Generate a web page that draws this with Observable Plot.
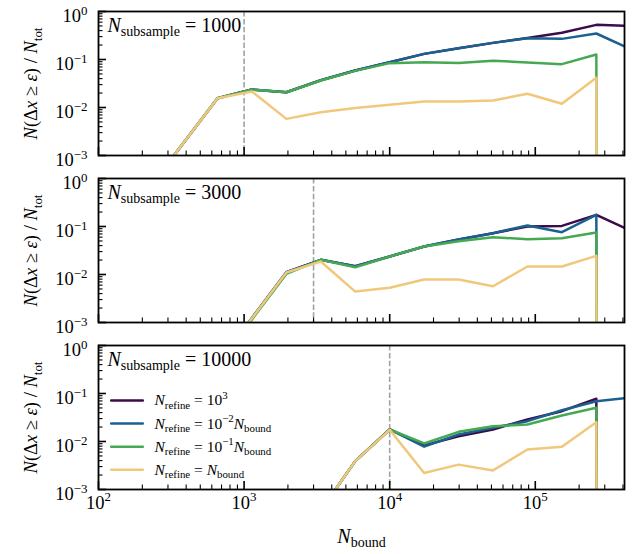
<!DOCTYPE html>
<html><head><meta charset="utf-8">
<script src="https://cdn.jsdelivr.net/npm/d3@7"></script>
<script src="https://cdn.jsdelivr.net/npm/@observablehq/plot@0.6"></script>
<style>
html,body{margin:0;padding:0;background:#fff;}
#chart svg{display:block;overflow:visible}
text{white-space:pre}
</style></head>
<body><div id="chart"></div>
<script>
// ---- data ----
const nBound = [220, 381, 657, 1132, 1951, 3364, 5800, 10000, 17240, 29720, 51240, 88340, 152300, 262600, 452700];
const subsamples = [1000, 3000, 10000];
const seriesKeys = ["refine_1e3", "refine_1e-2", "refine_1e-1", "refine_N"];
const seriesLabels = [
  "*N*_{refine} = 10^{3}",
  "*N*_{refine} = 10^{−2}*N*_{bound}",
  "*N*_{refine} = 10^{−1}*N*_{bound}",
  "*N*_{refine} = *N*_{bound}"
];
const seriesColors = ["#3b0b4b", "#1a6190", "#46a952", "#f1c87b"];

// N_subsample = 1000
const sub1000_refine1e3  = [2.0e-4, null, 0.0156, 0.0237, 0.0208, 0.037, 0.059, 0.088, 0.131, 0.172, 0.222, 0.28, 0.36, 0.527, 0.497];
const sub1000_refine1em2 = [2.0e-4, null, 0.0156, 0.0237, 0.0208, 0.037, 0.059, 0.088, 0.131, 0.172, 0.222, 0.278, 0.269, 0.348, 0.164];
const sub1000_refine1em1 = [2.0e-4, null, 0.0156, 0.0237, 0.0208, 0.0365, 0.058, 0.084, 0.088, 0.085, 0.094, 0.087, 0.080, 0.127, 0];
const sub1000_refineN    = [2.0e-4, null, 0.0156, 0.0215, 0.0058, 0.008, 0.0098, 0.0114, 0.0133, 0.0133, 0.014, 0.0193, 0.012, 0.0416, 0];
// N_subsample = 3000
const sub3000_refine1e3  = [null, null, 1.36e-4, null, 0.0112, 0.0202, 0.0148, 0.0237, 0.0383, 0.0536, 0.0726, 0.100, 0.103, 0.175, 0.081];
const sub3000_refine1em2 = [null, null, 1.36e-4, null, 0.0112, 0.0202, 0.0148, 0.0237, 0.0383, 0.0536, 0.0726, 0.105, 0.076, 0.175, 0];
const sub3000_refine1em1 = [null, null, 1.30e-4, null, 0.0103, 0.0202, 0.0142, 0.0237, 0.0383, 0.0494, 0.060, 0.0544, 0.057, 0.075, 0];
const sub3000_refineN    = [null, null, 1.36e-4, null, 0.011, 0.0187, 0.0044, 0.0053, 0.0079, 0.0079, 0.0057, 0.0147, 0.0147, 0.0245, 0];
// N_subsample = 10000
const sub10000_refine1e3  = [null, null, null, null, null, 3.7e-4, 0.0039, 0.0178, 0.0083, 0.0129, 0.0178, 0.0287, 0.0428, 0.0776, 0];
const sub10000_refine1em2 = [null, null, null, null, null, 3.7e-4, 0.0039, 0.0178, 0.0078, 0.0140, 0.0193, 0.0265, 0.0449, 0.069, 0.0826];
const sub10000_refine1em1 = [null, null, null, null, null, 3.7e-4, 0.0039, 0.0178, 0.0091, 0.0159, 0.0208, 0.0226, 0.0348, 0.0504, 0];
const sub10000_refineN    = [null, null, null, null, null, 3.7e-4, 0.0039, 0.0175, 0.0022, 0.0033, 0.0025, 0.0068, 0.0078, 0.0252, 0];

const majorX = [1e2, 1e3, 1e4, 1e5];
const minorX = [2e2,3e2,4e2,5e2,6e2,7e2,8e2,9e2,2e3,3e3,4e3,5e3,6e3,7e3,8e3,9e3,2e4,3e4,4e4,5e4,6e4,7e4,8e4,9e4,2e5,3e5,4e5];
const majorY = [1e-3, 1e-2, 1e-1, 1];
const minorY = [2e-3,3e-3,4e-3,5e-3,6e-3,7e-3,8e-3,9e-3,2e-2,3e-2,4e-2,5e-2,6e-2,7e-2,8e-2,9e-2,2e-1,3e-1,4e-1,5e-1,6e-1,7e-1,8e-1,9e-1];
const yLabel = "*N*(Δ*x* ≥ *ε*) / *N*_{tot}";
const xLabel = "*N*_{bound}";

// ---- table ----
const panels = [
  {sub: 1000, series: [sub1000_refine1e3, sub1000_refine1em2, sub1000_refine1em1, sub1000_refineN]},
  {sub: 3000, series: [sub3000_refine1e3, sub3000_refine1em2, sub3000_refine1em1, sub3000_refineN]},
  {sub: 10000, series: [sub10000_refine1e3, sub10000_refine1em2, sub10000_refine1em1, sub10000_refineN]}
];
const rows = [];
panels.forEach(p => p.series.forEach((arr, si) => arr.forEach((v, i) => {
  if (v == null) return;
  // emulate matplotlib's clipping of non-positive values on a log axis
  rows.push({sub: p.sub, key: seriesKeys[si], n: nBound[i], v: v > 0 ? v : 1e-300});
})));

const powFmt = d => `10^{${Math.round(Math.log10(d))}}`.replace("-", "−");
const lineShape = {draw(ctx, l) { ctx.moveTo(0, 0); ctx.lineTo(0, -l); }};

const chart = Plot.plot({
  width: 639, height: 554,
  marginLeft: 98, marginRight: 15, marginTop: 11, marginBottom: 64,
  style: {fontFamily: "'Liberation Serif', 'DejaVu Serif', serif", fontSize: "18px", color: "black", background: "white"},
  x: {type: "log", domain: [100, 4.1e5]},
  y: {type: "log", domain: [1e-3, 1]},
  fy: {domain: subsamples, paddingInner: 0.1377, paddingOuter: 0, axis: null},
  color: {domain: seriesKeys, range: seriesColors},
  marks: [
    Plot.ruleX(subsamples, {x: d => d, fy: d => d, stroke: "#a3a3a3", strokeWidth: 1.6, strokeDasharray: "5.5,2.4"}),
    Plot.line(rows, {x: "n", y: "v", fy: "sub", z: "key", stroke: "key", strokeWidth: 2.5, clip: true}),
    Plot.axisX({ticks: minorX, tickSize: -4.5, fill: "none", facetAnchor: null, strokeWidth: 1.1, label: null}),
    Plot.axisX({ticks: majorX, tickSize: -8, fill: "none", facetAnchor: null, strokeWidth: 1.6, label: null}),
    Plot.axisX({ticks: majorX, tickSize: 0, tickPadding: 6, tickFormat: powFmt, fontSize: 18.5, label: null}),
    Plot.axisY({ticks: minorY, tickSize: -4.5, fill: "none", strokeWidth: 1.1, label: null}),
    Plot.axisY({ticks: majorY, tickSize: 0, tickPadding: 11, tickFormat: powFmt, fontSize: 18.5, dy: 5, label: null}),
    Plot.axisY({ticks: majorY, tickSize: -8, fill: "none", strokeWidth: 1.6, label: null}),
    Plot.frame({stroke: "black", strokeWidth: 1.8}),
    Plot.text(subsamples, {fy: d => d, frameAnchor: "left", rotate: -90, dx: -67, text: () => yLabel, fontSize: 18.5, textAnchor: "middle", lineAnchor: "middle"}),
    Plot.text(subsamples, {fy: d => d, frameAnchor: "top-left", dx: 9, dy: 20, text: d => `*N*_{subsample} = ${d}`, fontSize: 20, textAnchor: "start", lineAnchor: "bottom"}),
    ...seriesKeys.map((k, i) => Plot.vector([k], {fy: () => 10000, frameAnchor: "top-left", dx: 12.7, dy: 55 + 23.1 * i, length: 31.6, rotate: 90, anchor: "start", shape: lineShape, stroke: d => d, strokeWidth: 2.5})),
    ...seriesLabels.map((lab, i) => Plot.text([lab], {fy: () => 10000, frameAnchor: "top-left", dx: 56, dy: 55 + 23.1 * i, text: d => d, fontSize: 15.5, textAnchor: "start", lineAnchor: "middle"})),
    Plot.text([xLabel], {fy: () => 10000, frameAnchor: "bottom", dy: 53, text: d => d, fontSize: 20, textAnchor: "middle", lineAnchor: "bottom"})
  ]
});
document.getElementById("chart").appendChild(chart);

// ---- rich text (italics, sub/superscripts) ----
function parseRich(s) {
  const segs = [];
  let italic = false, buf = "", i = 0;
  const flush = () => { if (buf) segs.push({text: buf, italic, shift: 0}); buf = ""; };
  while (i < s.length) {
    const c = s[i];
    if (c === "*") { flush(); italic = !italic; i++; }
    else if ((c === "_" || c === "^") && s[i + 1] === "{") {
      flush();
      const j = s.indexOf("}", i);
      segs.push({text: s.slice(i + 2, j), italic: false, shift: c === "_" ? -1 : 1});
      i = j + 1;
    } else { buf += c; i++; }
  }
  flush();
  return segs;
}
chart.querySelectorAll("text").forEach(el => {
  const s = el.textContent;
  if (!/[*_^]/.test(s)) return;
  const fs = parseFloat(getComputedStyle(el).fontSize) || 16;
  const segs = parseRich(s);
  el.textContent = "";
  let cur = 0;
  for (const seg of segs) {
    const t = document.createElementNS("http://www.w3.org/2000/svg", "tspan");
    const target = seg.shift === 1 ? -0.42 * fs : seg.shift === -1 ? 0.24 * fs : 0;
    if (target !== cur) { t.setAttribute("dy", (target - cur).toFixed(2)); cur = target; }
    if (seg.shift) t.setAttribute("font-size", (0.7 * fs).toFixed(2));
    if (seg.italic) t.setAttribute("font-style", "italic");
    t.textContent = seg.text;
    el.appendChild(t);
  }
});
</script></body></html>
